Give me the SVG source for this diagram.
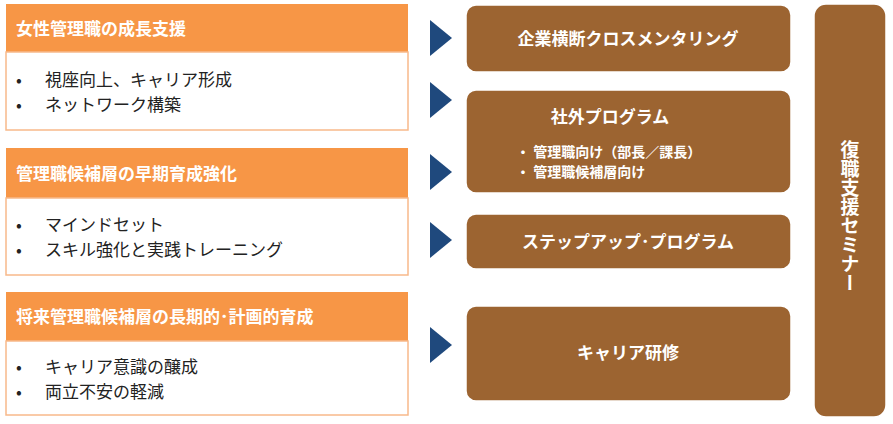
<svg xmlns="http://www.w3.org/2000/svg" width="893" height="424" viewBox="0 0 893 424">
<style>
text{font-family:"Noto Sans CJK JP","Noto Sans",sans-serif}
.hd{fill:#F79646}
.bd{fill:#fff;stroke:#F8B98A;stroke-width:1.5}
.ht{fill:#fff;font-size:17px;font-weight:bold}
.bt{fill:#222;font-size:17px}
.br{fill:#9C6431;stroke:#fff;stroke-width:1.5}
.wt{fill:#fff;font-weight:bold;text-anchor:middle}
.ar{fill:#1F497D}
</style>
<rect width="893" height="424" fill="#fff"/>
<g id="left1"><rect class="hd" x="6" y="4" width="402" height="48"/><rect class="bd" x="6" y="52" width="402" height="78"/>
<text class="ht" x="16" y="35">女性管理職の成長支援</text>
<text class="bt" x="16" y="86">•</text><text class="bt" x="45" y="86">視座向上、キャリア形成</text>
<text class="bt" x="16" y="111">•</text><text class="bt" x="45" y="111">ネットワーク構築</text></g>
<g id="left2"><rect class="hd" x="6" y="148" width="402" height="50"/><rect class="bd" x="6" y="198" width="402" height="77"/>
<text class="ht" x="16" y="180">管理職候補層の早期育成強化</text>
<text class="bt" x="16" y="231">•</text><text class="bt" x="45" y="231">マインドセット</text>
<text class="bt" x="16" y="256">•</text><text class="bt" x="45" y="256">スキル強化と実践トレーニング</text></g>
<g id="left3"><rect class="hd" x="6" y="292" width="402" height="49"/><rect class="bd" x="6" y="341" width="402" height="74"/>
<text class="ht" x="16" y="323">将来管理職候補層の長期的･計画的育成</text>
<text class="bt" x="16" y="373">•</text><text class="bt" x="45" y="373">キャリア意識の醸成</text>
<text class="bt" x="16" y="398">•</text><text class="bt" x="45" y="398">両立不安の軽減</text></g>
<g id="connectors">
<polygon class="ar" points="430,20 452,38 430,56"/>
<polygon class="ar" points="430,82 452,100 430,118"/>
<polygon class="ar" points="430,154 452,172 430,190"/>
<polygon class="ar" points="430,222 452,240 430,258"/>
<polygon class="ar" points="430,327 452,345 430,363"/>
</g>
<g id="r1"><rect class="br" x="466" y="5" width="325" height="67" rx="10"/><text class="wt" x="628" y="45" font-size="17">企業横断クロスメンタリング</text></g>
<g id="r2"><rect class="br" x="466" y="90" width="325" height="103" rx="10"/><text class="wt" x="610" y="123" font-size="17">社外プログラム</text>
<text x="516" y="157" fill="#fff" font-size="14" font-weight="bold">・ 管理職向け（部長／課長）</text>
<text x="516" y="177" fill="#fff" font-size="14" font-weight="bold">・ 管理職候補層向け</text></g>
<g id="r3"><rect class="br" x="466" y="214" width="325" height="55" rx="10"/><text class="wt" x="628" y="248" font-size="17">ステップアップ･プログラム</text></g>
<g id="r4"><rect class="br" x="466" y="306" width="325" height="95" rx="10"/><text class="wt" x="628" y="359" font-size="17">キャリア研修</text></g>
<g id="r5"><rect class="br" x="814" y="4" width="72" height="413" rx="12"/>
<text class="wt" x="850" y="140" font-size="19" style="writing-mode:vertical-rl;text-orientation:upright;text-anchor:start">復職支援セミナー</text></g>
</svg>
